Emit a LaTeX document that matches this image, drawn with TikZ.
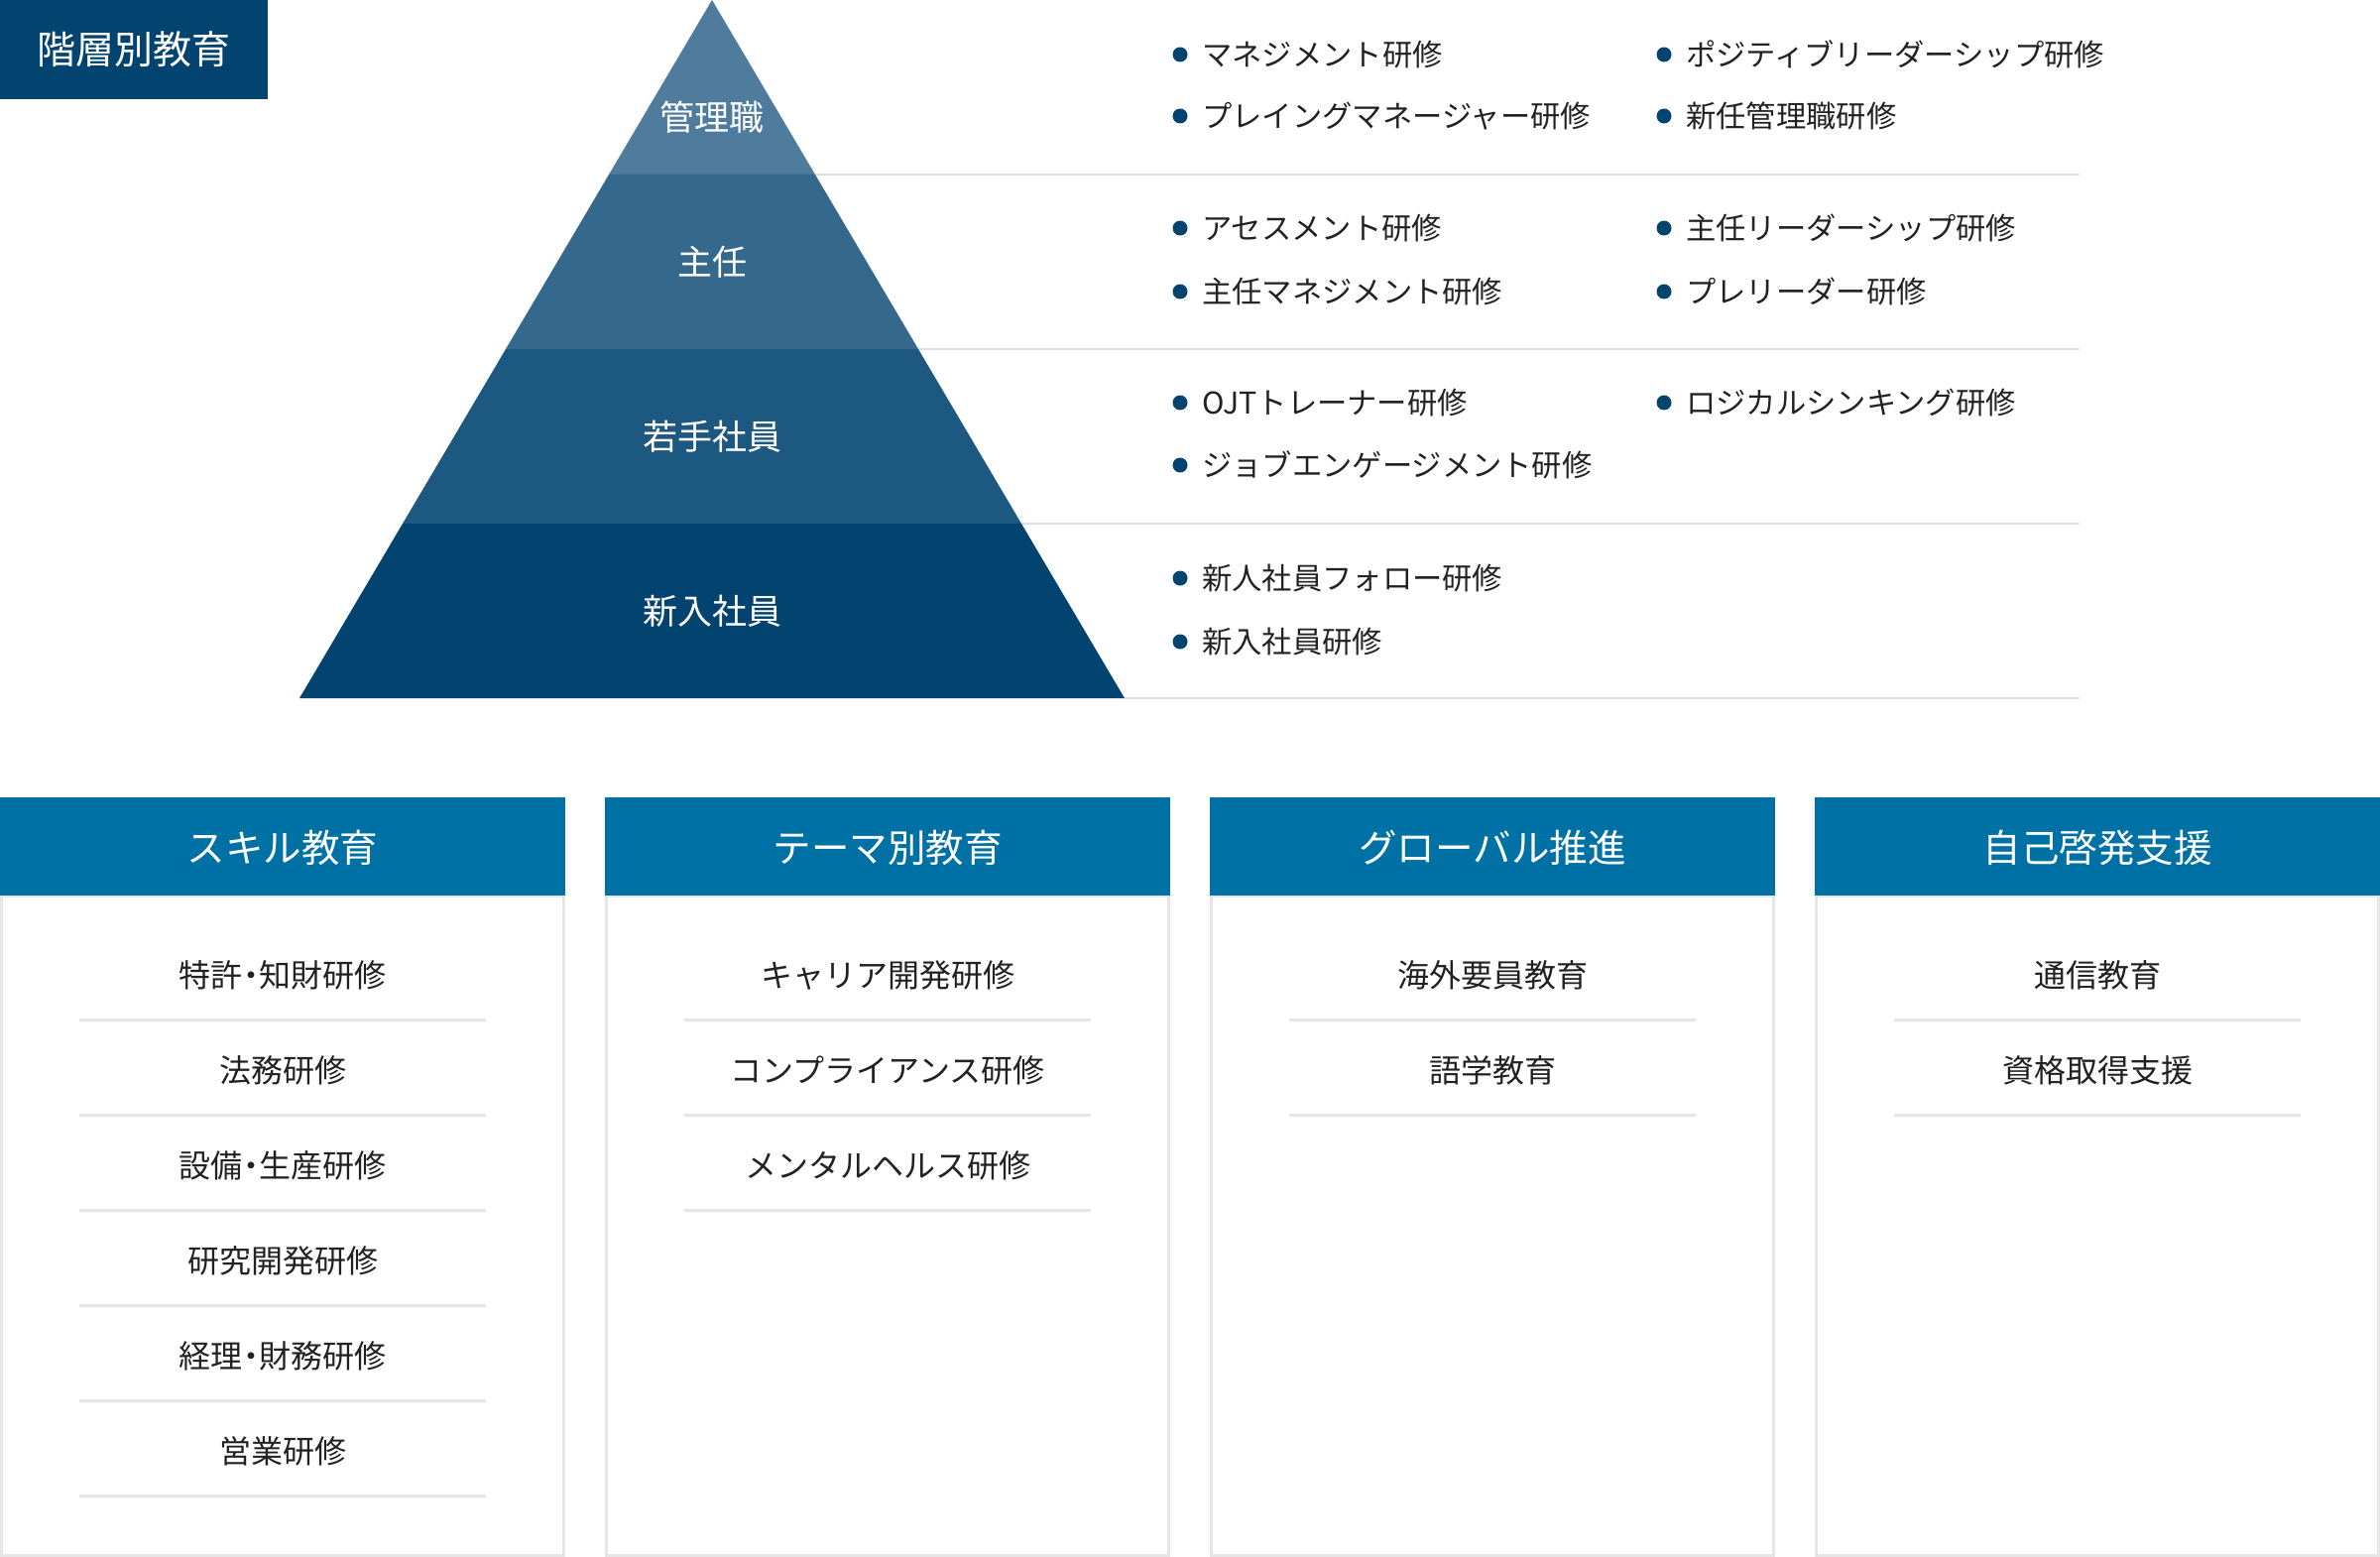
\documentclass[tikz,border=0pt]{standalone}
\usepackage{fontspec}
\setmainfont{Noto Sans CJK JP}
\definecolor{navy}{HTML}{024370}
\definecolor{lay1}{HTML}{4F7B9C}
\definecolor{lay2}{HTML}{34688C}
\definecolor{lay3}{HTML}{1D5880}
\definecolor{lay4}{HTML}{024370}
\definecolor{cardhead}{HTML}{0071A4}
\definecolor{rulegray}{HTML}{DDDDDD}
\definecolor{cardline}{HTML}{E6E6E6}
\definecolor{ink}{HTML}{222222}
\newcommand{\nd}{\hspace{-0.22em}・\hspace{-0.22em}}
\begin{document}
\begin{tikzpicture}[x=1pt,y=-1pt,
  titletext/.style={text=white,font=\fontsize{39}{46}\selectfont,inner sep=0},
  laylabel/.style={text=white,font=\fontsize{35}{42}\selectfont,inner sep=0},
  bulletdot/.style={circle,fill=navy,inner sep=0,minimum size=15},
  bullettext/.style={text=ink,font=\fontsize{30.3}{36}\selectfont,inner sep=0,anchor=west},
  headtext/.style={text=white,font=\fontsize{38.5}{45}\selectfont,inner sep=0},
  itemtext/.style={text=ink,font=\fontsize{32}{38}\selectfont,inner sep=0},
  rowrule/.style={draw=rulegray,line width=2},
  itemrule/.style={draw=cardline,line width=3},
  cardframe/.style={draw=cardline,line width=3,fill=white},
]
\useasboundingbox (0,0) rectangle (2400,1570);
% title
\fill[navy] (0,0) rectangle (270,100);
\node[titletext] (title) at (135,50) {階層別教育};
% row rules
\foreach \k in {1,2,3,4}{
  \draw[rowrule] ({718+104*\k},{176*\k}) -- (2097,{176*\k});
}
% pyramid layers
\fill[lay1] (718,0) -- (822,176) -- (614,176) -- cycle;
\fill[lay2] (614,176) -- (822,176) -- (926,352) -- (510,352) -- cycle;
\fill[lay3] (510,352) -- (926,352) -- (1030,528) -- (406,528) -- cycle;
\fill[lay4] (406,528) -- (1030,528) -- (1134,704) -- (302,704) -- cycle;
\node[laylabel] (l1) at (718,118) {管理職};
\node[laylabel] (l2) at (718,264) {主任};
\node[laylabel] (l3) at (718,440) {若手社員};
\node[laylabel] (l4) at (718,616) {新入社員};
% bullets
\foreach \nm/\x/\y/\t in {
  a1/1190/55/マネジメント研修,
  a2/1190/117/プレイングマネージャー研修,
  a3/1678/55/ポジティブリーダーシップ研修,
  a4/1678/117/新任管理職研修,
  b1/1190/230/アセスメント研修,
  b2/1190/294/主任マネジメント研修,
  b3/1678/230/主任リーダーシップ研修,
  b4/1678/294/プレリーダー研修,
  c1/1190/406/OJTトレーナー研修,
  c2/1190/469/ジョブエンゲージメント研修,
  c3/1678/406/ロジカルシンキング研修,
  d1/1190/583/新人社員フォロー研修,
  d2/1190/647/新入社員研修}{
  \node[bulletdot] (dot\nm) at (\x,\y) {};
  \node[bullettext] (txt\nm) at ({\x+22},\y) {\t};
}
% cards
\foreach \c/\x/\h in {1/0/スキル教育,2/610/テーマ別教育,3/1220/グローバル推進,4/1830/自己啓発支援}{
  \draw[cardframe] ({\x+1.5},903) rectangle ({\x+568.5},1568.5);
  \fill[cardhead] (\x,804) rectangle ({\x+570},903);
  \node[headtext] (head\c) at ({\x+285},855) {\h};
}
\foreach \c/\x/\i/\t in {
  1/0/0/特許\nd 知財研修, 1/0/1/法務研修, 1/0/2/設備\nd 生産研修, 1/0/3/研究開発研修, 1/0/4/経理\nd 財務研修, 1/0/5/営業研修,
  2/610/0/キャリア開発研修, 2/610/1/コンプライアンス研修, 2/610/2/メンタルヘルス研修,
  3/1220/0/海外要員教育, 3/1220/1/語学教育,
  4/1830/0/通信教育, 4/1830/1/資格取得支援}{
  \node[itemtext] (item\c-\i) at ({\x+285},{983+96*\i}) {\t};
  \draw[itemrule] ({\x+80},{1028+96*\i}) -- ({\x+490},{1028+96*\i});
}
\end{tikzpicture}
\end{document}
